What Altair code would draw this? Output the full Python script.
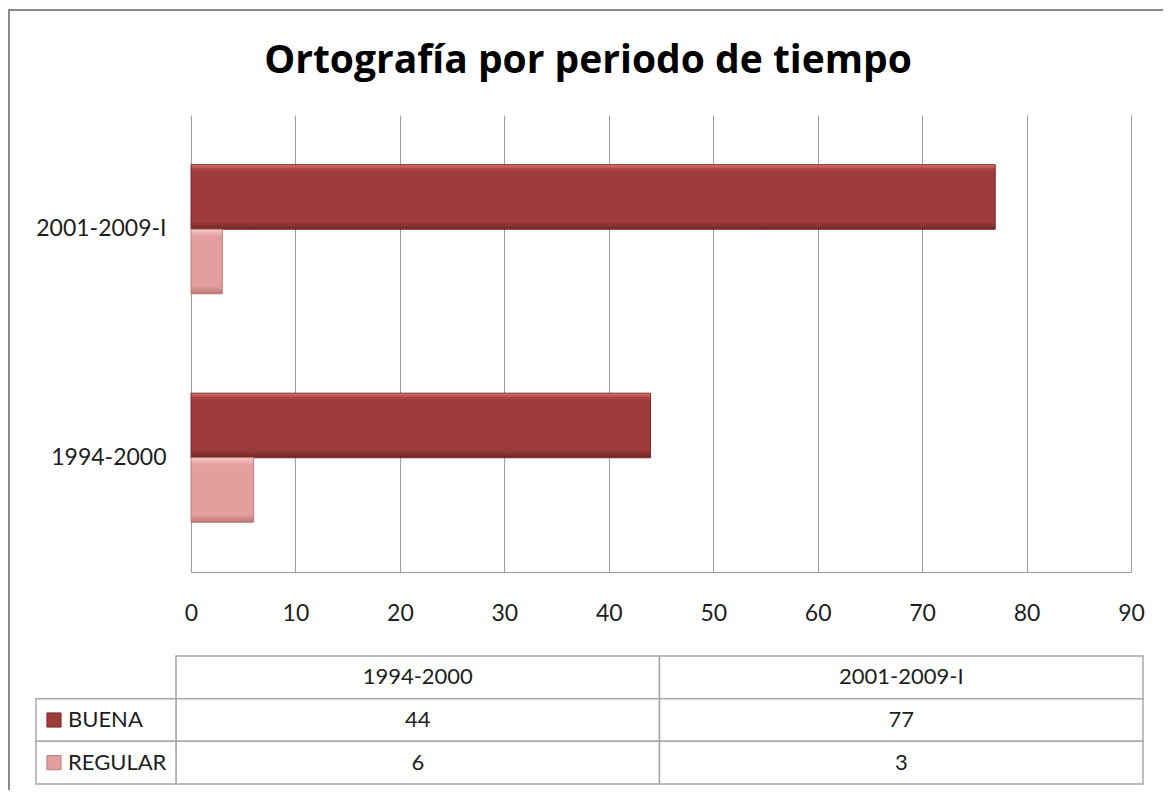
import altair as alt
import pandas as pd

# ---------------- data ----------------
title_text = "Ortografía por periodo de tiempo"
periods = ["1994-2000", "2001-2009-I"]
periods_plot_order = ["2001-2009-I", "1994-2000"]
series = ["BUENA", "REGULAR"]
buena = [44, 77]
regular = [6, 3]
x_ticks = [0, 10, 20, 30, 40, 50, 60, 70, 80, 90]
table_rows = ["header", "BUENA", "REGULAR"]

# ---------------- style ----------------
bar_colors = ["#9E3B3B", "#E39E9E"]
bar_strokes = ["#7A2A2A", "#C27C7C"]
bar_gradients = {
    "BUENA": [("#E27C7C", 0.0), ("#B04646", 0.06), ("#9E3B3B", 0.12),
              ("#9E3B3B", 0.88), ("#8A3232", 0.94), ("#6E2626", 1.0)],
    "REGULAR": [("#F8D0D0", 0.0), ("#EDB0B0", 0.06), ("#E39E9E", 0.12),
                ("#E39E9E", 0.88), ("#D08A8A", 0.94), ("#B87474", 1.0)],
}
FONT = "Lato"
TITLE_FONT = "Open Sans"
TEXT = "#1e1e1e"
GRID = "#9d9d9d"
TABLE_LINE = "#a9a9a9"

values_by_series = {"BUENA": buena, "REGULAR": regular}
bar_df = pd.DataFrame(
    [{"period": p, "series": s, "value": values_by_series[s][i]}
     for s in series for i, p in enumerate(periods)]
)
cell_df = pd.DataFrame(
    [{"row": "header", "col": p, "text": p} for p in periods]
    + [{"row": s, "col": p, "text": str(values_by_series[s][i])}
       for s in series for i, p in enumerate(periods)]
)
label_df = pd.DataFrame({"row": series, "col": ["label"] * len(series), "text": series})
frame_df = pd.DataFrame({"k": [0]})

# ---------------- layers ----------------
frame = alt.Chart(frame_df).mark_rect(
    fillOpacity=0, stroke="#8a8a8a", strokeWidth=2
).encode(x=alt.value(-182), x2=alt.value(1300), y=alt.value(-105), y2=alt.value(1000))

x_enc = alt.X("value:Q",
              scale=alt.Scale(domain=[0, 90], nice=False, zero=True),
              axis=alt.Axis(values=x_ticks, title=None, grid=True, gridColor=GRID, gridWidth=1,
                            domain=True, domainColor=GRID, ticks=False,
                            labelFont=FONT, labelFontSize=23, labelColor=TEXT,
                            labelPadding=30, labelFlush=False))
y_enc = alt.Y("period:N", sort=periods_plot_order,
              scale=alt.Scale(paddingInner=0.435, paddingOuter=0.2175),
              axis=alt.Axis(title=None, ticks=False, domain=False,
                            labelFont=FONT, labelFontSize=23, labelColor=TEXT, labelPadding=25))
yoff_enc = alt.YOffset("series:N", sort=series, scale=alt.Scale(domain=series, paddingInner=0, paddingOuter=0))


def bar_layer(s, stroke):
    grad = alt.LinearGradient(
        gradient="linear", x1=0, x2=0, y1=0, y2=1,
        stops=[alt.GradientStop(color=c, offset=o) for c, o in bar_gradients[s]],
    )
    return alt.Chart(bar_df).transform_filter(
        alt.datum.series == s
    ).mark_bar(color=grad, stroke=stroke, strokeWidth=1).encode(
        x=x_enc, y=y_enc, yOffset=yoff_enc
    )


bars = alt.layer(bar_layer("BUENA", bar_strokes[0]), bar_layer("REGULAR", bar_strokes[1]))

tx = alt.X("col:N", scale=alt.Scale(type="band", domain=periods, range=[-15, 952],
                                    paddingInner=0, paddingOuter=0), axis=None)
ty = alt.Y("row:N", scale=alt.Scale(type="band", domain=table_rows, range=[541, 669],
                                    paddingInner=0, paddingOuter=0), axis=None)

cells = alt.Chart(cell_df).mark_rect(fill="white", stroke=TABLE_LINE, strokeWidth=1.5).encode(x=tx, y=ty)
cell_text = alt.Chart(cell_df).mark_text(font=FONT, fontSize=22, color=TEXT).encode(
    x=tx, y=ty, text="text:N")

lx_scale = alt.Scale(type="band", domain=["label"], range=[-155, -15], paddingInner=0, paddingOuter=0)
label_cells = alt.Chart(label_df).mark_rect(fill="white", stroke=TABLE_LINE, strokeWidth=1.5).encode(
    x=alt.X("col:N", scale=lx_scale, axis=None), y=ty)
label_text = alt.Chart(label_df).mark_text(font=FONT, fontSize=22, color=TEXT, align="left", dx=32).encode(
    x=alt.X("col:N", scale=lx_scale, axis=None, bandPosition=0), y=ty, text="text:N")
label_sq = alt.Chart(label_df).mark_point(shape="square", filled=True, size=200, opacity=1,
                                          xOffset=18, strokeWidth=1).encode(
    x=alt.X("col:N", scale=lx_scale, axis=None, bandPosition=0), y=ty,
    color=alt.Color("row:N", scale=alt.Scale(domain=series, range=bar_colors), legend=None),
    stroke=alt.Stroke("row:N", scale=alt.Scale(domain=series, range=bar_strokes), legend=None),
)

chart = alt.layer(
    frame, bars, cells, cell_text, label_cells, label_text, label_sq
).resolve_scale(
    x="independent", y="independent", color="independent", stroke="independent"
).properties(
    width=940, height=457,
    padding={"left": 183, "top": 107, "right": 32, "bottom": 218},
    autosize=alt.AutoSizeParams(type="none"),
    background="white",
    title=alt.Title(title_text, font=TITLE_FONT, fontSize=39, fontWeight="bold", color="black",
                    anchor="middle", frame="group", dx=-73, dy=76),
).configure_view(stroke=None)

chart.save("out.html", embed_options={"renderer": "svg", "actions": False})
